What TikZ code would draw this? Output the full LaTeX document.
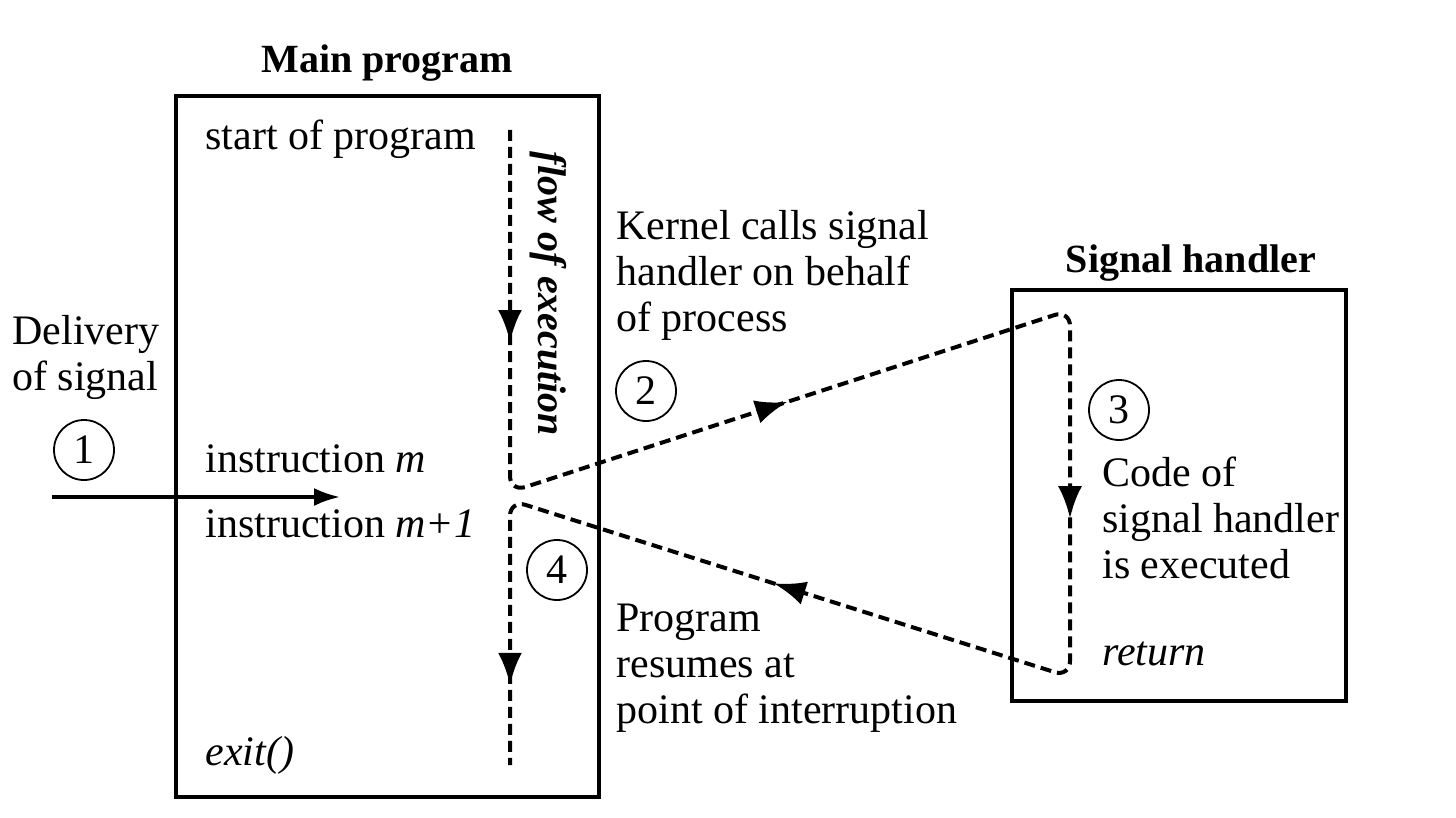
\documentclass[tikz,border=0pt]{standalone}
\usepackage{fontspec}
\setmainfont{Liberation Serif}
\usetikzlibrary{arrows.meta,decorations.markings}

\tikzset{
  txt/.style={anchor=base west, inner sep=0pt, font=\fontsize{21}{23}\selectfont},
  txtblock/.style={anchor=north west, inner sep=0pt, align=left, font=\fontsize{21}{23}\selectfont},
  title/.style={anchor=base, inner sep=0pt, font=\fontsize{20}{23}\selectfont\bfseries},
  numcirc/.style={circle, draw, line width=0.9pt, minimum size=30pt, inner sep=0pt, font=\fontsize{21}{23}\selectfont},
  frame/.style={line width=1.7pt},
  sigarrow/.style={line width=1.7pt, -{Latex[length=13pt,width=9pt]}},
  flowline/.style={line width=2pt, dash pattern=on 5.5pt off 3pt, rounded corners=8pt},
  flowarrows/.style={postaction={decorate}, decoration={markings,
      mark=at position 106pt with {\arrow{Latex[length=16pt,width=12pt]}},
      mark=at position 322pt with {\arrow{Latex[length=16pt,width=12pt]}},
      mark=at position 570pt with {\arrow{Latex[length=16pt,width=12pt]}},
      mark=at position 800pt with {\arrow{Latex[length=16pt,width=12pt]}},
      mark=at position 1026pt with {\arrow{Latex[length=16pt,width=12pt]}}}}
}

\begin{document}
\begin{tikzpicture}[x=0.5pt, y=-0.5pt]
  % fix the page size
  \useasboundingbox (0,0) rectangle (1456,818);

  % the two boxes
  \draw[frame] (176,96) rectangle (599,797);
  \draw[frame] (1012,290) rectangle (1346,701);
  \node[title] (maintitle) at (387,73) {Main program};
  \node[title] (handlertitle) at (1191,272) {Signal handler};

  % main program text
  \node[txt] (start) at (205,150) {start of program};
  \node[txt] (instm) at (205,472) {instruction \textit{m}};
  \node[txt] (instmm) at (205,537) {instruction \textit{m+1}};
  \node[txt] (exit) at (205,765) {\textit{exit()}};
  \node[inner sep=0pt, rotate=-90, font=\fontsize{20}{23}\selectfont\bfseries\itshape] (flow) at (548,294) {flow of execution};

  % delivery of the signal
  \node[txtblock] (delivery) at (12,315) {Delivery\\of signal};
  \node[numcirc] (one) at (84,450) {1};
  \coordinate (sigin) at (52,497);
  \coordinate (sigtip) at (340,497);
  \draw[sigarrow] (sigin) -- (sigtip);

  % side notes
  \node[txtblock] (kernel) at (616,210) {Kernel calls signal\\handler on behalf\\of process};
  \node[numcirc] (two) at (646,391) {2};
  \node[numcirc] (three) at (1119,410) {3};
  \node[txtblock] (code) at (1102,457) {Code of\\signal handler\\is executed};
  \node[txt] (return) at (1102,665) {\textit{return}};
  \node[numcirc] (four) at (557,570) {4};
  \node[txtblock] (resume) at (616,604) {Program\\resumes at\\point of interruption};

  % flow of execution, through the handler and back
  \coordinate (flowtop) at (510,130);
  \coordinate (leave) at (510,492);
  \coordinate (htop) at (1070,310);
  \coordinate (hbot) at (1070,677);
  \coordinate (back) at (510,500);
  \coordinate (flowend) at (510,765);
  \draw[flowline, flowarrows] (flowtop) -- (leave) -- (htop) -- (hbot) -- (back) -- (flowend);
\end{tikzpicture}
\end{document}
